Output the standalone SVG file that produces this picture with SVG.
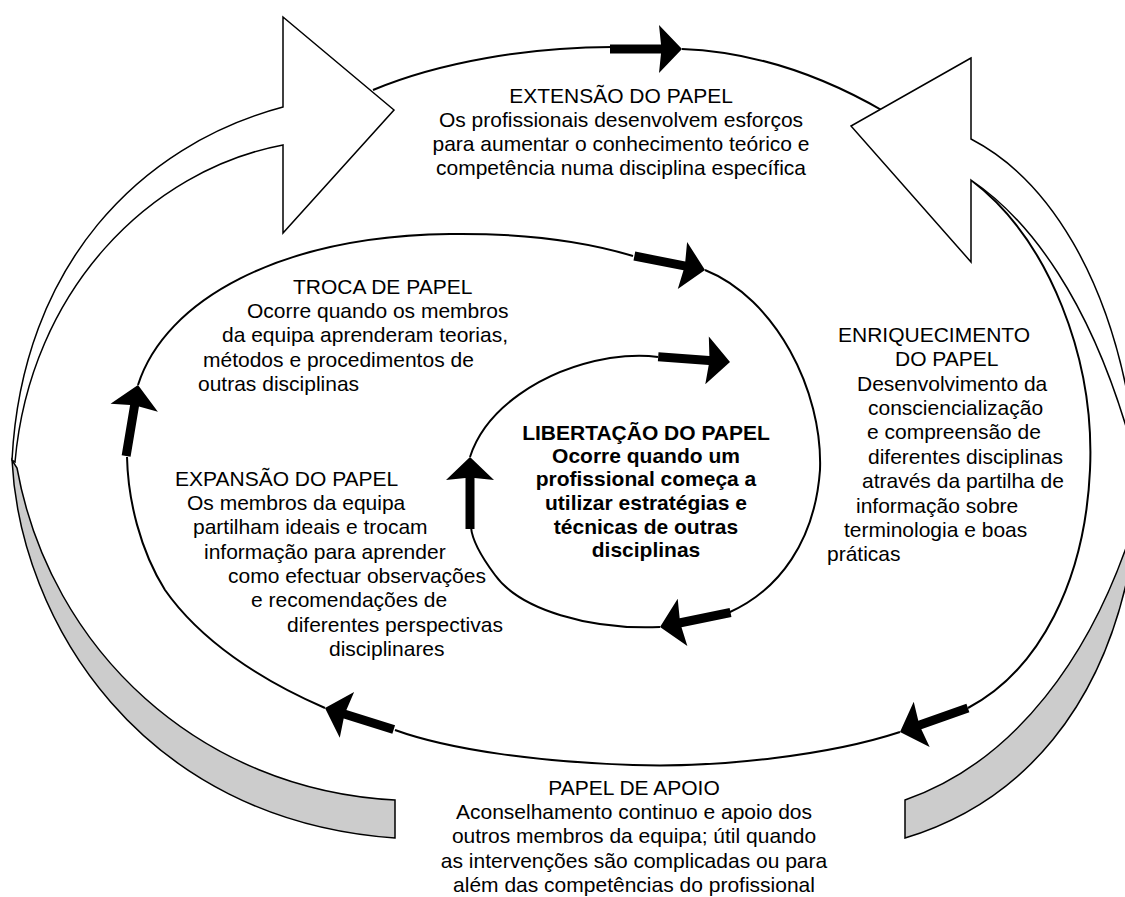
<svg xmlns="http://www.w3.org/2000/svg" xmlns:xlink="http://www.w3.org/1999/xlink" width="1125" height="897" viewBox="0 0 1125 897">
  <style>
    .t{font-family:"Liberation Sans",Arial,sans-serif;font-size:21px;fill:#000}
    .b{font-weight:bold}
    .ring{fill:none;stroke:#000;stroke-width:2}
    .face{fill:#fff;stroke:#000;stroke-width:1.5;stroke-linejoin:miter}
    .back{fill:#ccc;stroke:#000;stroke-width:1.5}
  </style>
  <defs>
    <!-- block arrow on the cycle lines, tip at the origin, pointing along +x -->
    <path id="arw" d="M-72,-4.5 L-21,-4.5 L-23,-24 L0,0 L-23,24 L-21,4.5 L-72,4.5 Z" fill="#000"/>
  </defs>

  <rect width="1125" height="897" fill="#fff"/>

  <!-- cycle lines and their arrows -->
  <g id="connectors">
    <path class="ring" d="M373,90 C440,62 530,47 612,47"/>
    <path class="ring" d="M682,49 C760,52 830,80 885,112"/>
    <use xlink:href="#arw" transform="translate(682,49)"/>

    <path class="ring" d="M971,180 C1050,240 1095,360 1090,470 C1085,580 1040,670 968,708"/>
    <use xlink:href="#arw" transform="translate(900,732) rotate(160.6)"/>
    <path class="ring" d="M900,732 C830,755 720,768 633,765 C540,762 450,750 395,730"/>
    <use xlink:href="#arw" transform="translate(325,708) rotate(197.4)"/>
    <path class="ring" d="M325,708 C260,680 200,640 165,590 C140,550 128,500 127,457"/>
    <use xlink:href="#arw" transform="translate(138,385) rotate(-80.5)"/>
    <path class="ring" d="M138,385 C165,300 280,236 450,234 C530,233 590,243 633,256"/>
    <use xlink:href="#arw" transform="translate(705,270) rotate(11.2)"/>
    <path class="ring" d="M705,270 C775,298 823,390 820,470 C815,540 780,590 728,613"/>
    <use xlink:href="#arw" transform="translate(660,627) rotate(168.4)"/>
    <path class="ring" d="M660,627 C590,630 520,610 495,575 C480,555 472,540 471,527"/>
    <use xlink:href="#arw" transform="translate(470,457) rotate(-90)"/>
    <path class="ring" d="M470,457 C485,410 540,370 610,358 C630,355 645,355 658,357"/>
    <use xlink:href="#arw" transform="translate(730,362) rotate(4.2)"/>
  </g>

  <!-- large curved arrow on the left: front face and grey back face -->
  <g id="arrow-left">
    <path class="back" d="M12,460 C20,620 140,820 395,838 L395,800 C200,790 50,650 17,468 Z"/>
    <path class="face" d="M283,17 L394,110 L283,233 L283,145 C150,170 30,290 15,462 L12,460 C22,265 140,145 283,107 Z"/>
  </g>

  <!-- large curved arrow on the right -->
  <g id="arrow-right">
    <path class="back" d="M1127,545 C1090,650 1020,760 905,800 L905,838 C1030,800 1100,700 1127,580 Z"/>
    <path class="face" d="M971,58 L851,126 L971,262 L971,180 C1030,220 1090,300 1130,440 L1132,420 C1110,280 1050,180 971,139 Z"/>
  </g>

  <g id="extensao" class="t" text-anchor="middle">
    <text x="621" y="103">EXTENSÃO DO PAPEL</text>
    <text x="621" y="127">Os profissionais desenvolvem esforços</text>
    <text x="621" y="151">para aumentar o conhecimento teórico e</text>
    <text x="621" y="175">competência numa disciplina específica</text>
  </g>

  <g id="troca" class="t">
    <text x="293" y="294">TROCA DE PAPEL</text>
    <text x="247" y="318">Ocorre quando os membros</text>
    <text x="222" y="342">da equipa aprenderam teorias,</text>
    <text x="203" y="367">métodos e procedimentos de</text>
    <text x="198" y="391">outras disciplinas</text>
  </g>

  <g id="expansao" class="t">
    <text x="175" y="486">EXPANSÃO DO PAPEL</text>
    <text x="187" y="510">Os membros da equipa</text>
    <text x="193" y="534">partilham ideais e trocam</text>
    <text x="204" y="559">informação para aprender</text>
    <text x="228" y="583">como efectuar observações</text>
    <text x="251" y="607">e recomendações de</text>
    <text x="287" y="632">diferentes perspectivas</text>
    <text x="329" y="656">disciplinares</text>
  </g>

  <g id="enriquecimento" class="t">
    <text x="838" y="342">ENRIQUECIMENTO</text>
    <text x="895" y="366">DO PAPEL</text>
    <text x="857" y="391">Desenvolvimento da</text>
    <text x="868" y="415">consciencialização</text>
    <text x="867" y="439">e compreensão de</text>
    <text x="868" y="464">diferentes disciplinas</text>
    <text x="862" y="488">através da partilha de</text>
    <text x="856" y="513">informação sobre</text>
    <text x="844" y="537">terminologia e boas</text>
    <text x="827" y="561">práticas</text>
  </g>

  <g id="libertacao" class="t b" text-anchor="middle">
    <text x="646" y="440">LIBERTAÇÃO DO PAPEL</text>
    <text x="646" y="463">Ocorre quando um</text>
    <text x="646" y="486">profissional começa a</text>
    <text x="646" y="510">utilizar estratégias e</text>
    <text x="646" y="534">técnicas de outras</text>
    <text x="646" y="557">disciplinas</text>
  </g>

  <g id="apoio" class="t" text-anchor="middle">
    <text x="634" y="795">PAPEL DE APOIO</text>
    <text x="634" y="819">Aconselhamento continuo e apoio dos</text>
    <text x="634" y="843">outros membros da equipa; útil quando</text>
    <text x="634" y="868">as intervenções são complicadas ou para</text>
    <text x="634" y="892">além das competências do profissional</text>
  </g>
</svg>
